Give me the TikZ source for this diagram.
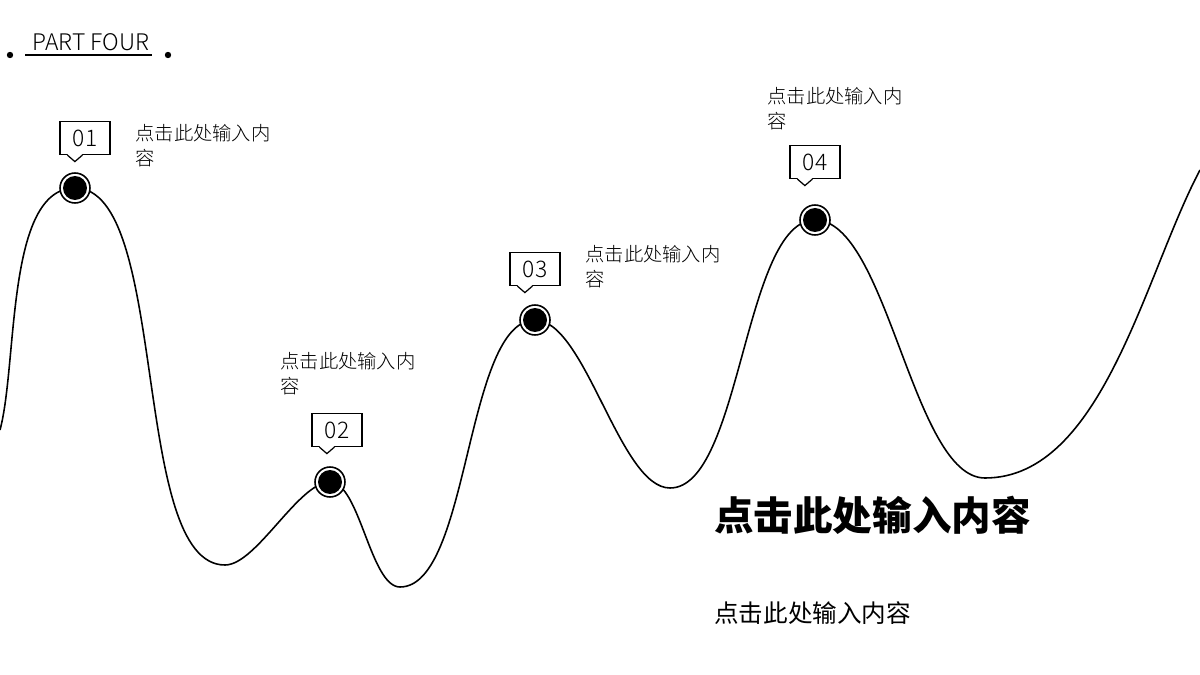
\documentclass[tikz,border=0pt]{standalone}
\usepackage{fontspec}
\setmainfont{Noto Sans CJK SC}
\newfontfamily\lightfont{Noto Sans CJK SC Light}
\usetikzlibrary{positioning}

\begin{document}
\begin{tikzpicture}[
    x=0.02cm, y=-0.02cm,
    curve/.style={line width=0.9pt},
    marker/.style={circle, draw, line width=0.9pt, fill=white, minimum size=30*0.02cm, inner sep=0pt,
      path picture={\fill[black] (path picture bounding box.center) circle (0.24cm);}},
    tag/.style={draw, line width=0.7pt, fill=white, minimum width=1cm, minimum height=0.66cm, inner sep=0pt, font=\lightfont\fontsize{13}{13}\selectfont},
    note/.style={anchor=north west, align=left, inner sep=0pt, font=\lightfont\fontsize{11}{14}\selectfont}
]
    \useasboundingbox (0,0) rectangle (1200,675);

    % Header
    \node[font=\lightfont\fontsize{13}{13}\selectfont, inner sep=0pt] (head) at (91,42) {PART FOUR};
    \coordinate (hl) at (25,55);
    \coordinate (hr) at (152,55);
    \draw[line width=0.6pt] (hl) -- (hr);
    \fill (10,55) circle (3.2);
    \fill (168,55) circle (3.2);

    % Mountain line
    \coordinate (s) at (0,430);
    \coordinate (p1) at (75,188);
    \coordinate (v1) at (225,565);
    \coordinate (p2) at (330,482);
    \coordinate (v2) at (400,587);
    \coordinate (p3) at (535,320);
    \coordinate (v3) at (670,488);
    \coordinate (p4) at (815,220);
    \coordinate (v4) at (985,478);
    \coordinate (e) at (1200,170);
    \draw[curve] (s) to[out=75,in=180,looseness=0.7] (p1) to[out=0,in=180,looseness=0.6] (v1)
      to[out=0,in=180,looseness=0.6] (p2) to[out=0,in=180,looseness=0.6] (v2) to[out=0,in=180,looseness=0.6] (p3)
      to[out=0,in=180,looseness=0.6] (v3) to[out=0,in=180,looseness=0.6] (p4) to[out=0,in=180,looseness=0.6] (v4)
      to[out=0,in=242,looseness=0.8] (e);

    % Markers, tags and notes
    \foreach \i/\tx/\ty/\nx/\ny in {1/85/138/135/124, 2/337/430/280/352, 3/535/269/585/245, 4/815/162/767/87}{
      \node[marker] (m\i) at (p\i) {};
      \node[tag] (t\i) at (\tx,\ty) {0\i};
      \fill[white] ([xshift=0.16cm,yshift=0.02cm]t\i.south west) -- ++(0.3cm,0) -- ++(-0.15cm,-0.13cm) -- cycle;
      \draw[line width=0.7pt] ([xshift=0.16cm]t\i.south west) -- ++(0.15cm,-0.13cm) -- ++(0.15cm,0.13cm);
      \node[note] (n\i) at (\nx,\ny) {点击此处输入内\\容};
    }

    % Summary
    \node[anchor=west, inner sep=0pt, font=\fontsize{22.5}{24}\selectfont\bfseries] (title) at (714,515) {点击此处输入内容};
    \node[anchor=west, inner sep=0pt, font=\fontsize{14}{16}\selectfont] (sub) at (714,613) {点击此处输入内容};
\end{tikzpicture}
\end{document}
